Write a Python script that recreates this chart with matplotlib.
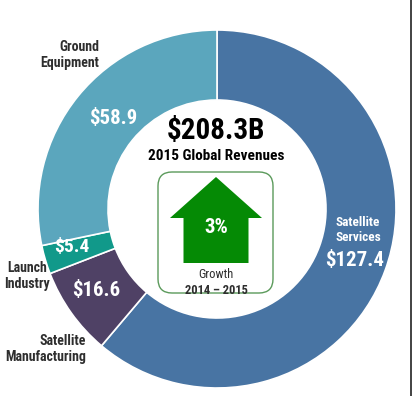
import matplotlib
matplotlib.use("Agg")
import matplotlib.pyplot as plt
from matplotlib import font_manager
from matplotlib.font_manager import FontProperties
from matplotlib.patches import FancyBboxPatch, FancyArrow

# segment data (clockwise from top)
segments = ["Satellite Services", "Satellite Manufacturing", "Launch Industry", "Ground Equipment"]
revenues = [127.4, 16.6, 5.4, 58.9]
colors = ["#4874a3", "#4f4165", "#11998a", "#5ba6bd"]
total_label = "$208.3B"
growth_label = "3%"

W, H = 414, 396


def find_narrow(bold):
    # look for a condensed / narrow sans face, fall back to Liberation Sans
    prefs = ["Liberation Sans Narrow", "Roboto Condensed", "Open Sans Condensed",
             "DejaVu Sans", "Noto Sans", "Open Sans", "Roboto"]
    cands = []
    for f in font_manager.fontManager.ttflist:
        narrow = ("narrow" in f.name.lower() or "condensed" in f.name.lower()
                  or f.stretch in ("condensed", "semi-condensed", "extra-condensed")
                  or "condensed" in f.fname.lower() or "narrow" in f.fname.lower())
        if not narrow or f.style != "normal":
            continue
        w = f.weight if isinstance(f.weight, int) else (700 if "bold" in str(f.weight) else 400)
        if bold != (w >= 600):
            continue
        if "extra" in f.fname.lower() or "semi" in f.fname.lower():
            continue
        rank = next((i for i, p in enumerate(prefs) if f.name.startswith(p)), 99)
        cands.append((rank, f.fname))
    if cands:
        cands.sort()
        return FontProperties(fname=cands[0][1])
    return FontProperties(family="Liberation Sans", weight="bold" if bold else "normal")


FB = find_narrow(True)
FR = find_narrow(False)


def py(y):
    # pixel row -> data y
    return H - y


def txt(x, y, s, size, bold=True, **kw):
    fp = (FB if bold else FR).copy()
    fp.set_size(size)
    ax.text(x, py(y), s, fontproperties=fp, ha=kw.pop("ha", "center"),
            va="center", **kw)


fig = plt.figure(figsize=(W / 100, H / 100), dpi=100)
ax = fig.add_axes([0, 0, 1, 1])

cx, cy, r_out = 217, py(209), 179
ax.pie(revenues, colors=colors, startangle=90, counterclock=False,
       center=(cx, cy), radius=r_out, frame=True,
       wedgeprops=dict(width=r_out - 109, edgecolor="white", linewidth=1.2))
ax.set_xlim(0, W)
ax.set_ylim(0, H)
ax.axis("off")

# right border line
ax.plot([411, 411], [0, H], color="#222222", lw=1.2)

# value labels on the ring
val_pos = [(355, 261, 15), (96, 290, 15), (72, 247, 14), (113, 118, 15)]
for v, (x, y, fs) in zip(revenues, val_pos):
    txt(x, y, f"${v}", fs, color="white")

txt(358, 230, "Satellite\nServices", 9.5, color="white", linespacing=1.15)

dark = "#2e2e2e"
txt(99, 55, "Ground\nEquipment", 10, ha="right", color=dark, linespacing=1.15)
txt(27, 276, "Launch\nIndustry", 10, color=dark, linespacing=1.15)
txt(86, 349, "Satellite\nManufacturing", 10, ha="right", color=dark, linespacing=1.15)

# centre texts
txt(216, 131, total_label, 21, color="black")
txt(216, 156, "2015 Global Revenues", 11, color="black")

# growth box
box = FancyBboxPatch((158, py(293)), 115, 121, boxstyle="round,pad=0,rounding_size=14",
                     fc="white", ec="#5b9a5b", lw=1)
ax.add_patch(box)
arrow = FancyArrow(216, py(263), 0, 86, width=65, head_width=92, head_length=41,
                   length_includes_head=True, fc="#058a05", ec="none")
ax.add_patch(arrow)
txt(216, 228, growth_label, 15, color="white")
txt(216, 275, "Growth", 9, bold=False, color=dark)
txt(216, 290, "2014 \u2013 2015", 9, color=dark)

fig.savefig("out.png", dpi=100)
